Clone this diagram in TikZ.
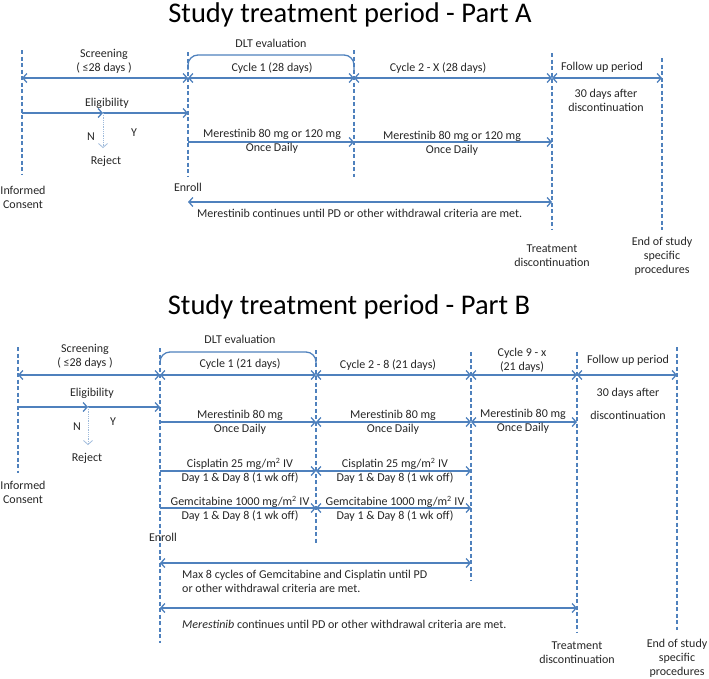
\documentclass[tikz,border=0pt]{standalone}
\usepackage{fontspec}
\setmainfont{Carlito}
\usetikzlibrary{arrows.meta}
\definecolor{accent}{RGB}{79,129,189}
\definecolor{ink}{RGB}{38,38,38}
\tikzset{
  >={Straight Barb[length=4pt,width=9pt]},
  phase/.style={draw=accent, line width=1.1pt, dash pattern=on 4pt off 2.5pt},
  span/.style={<->, draw=accent, line width=1.3pt},
  flow/.style={->, draw=accent, line width=1.3pt},
  dlt/.style={draw=accent, line width=1.3pt, rounded corners=10pt},
  reject/.style={->, draw=accent!55, line width=0.8pt, densely dotted},
  lbl/.style={text=ink, font=\fontsize{12}{14}\selectfont, inner sep=0pt, align=center, anchor=base},
  note/.style={lbl, align=left, anchor=base west},
  heading/.style={text=black, font=\fontsize{28.5}{32}\selectfont, inner sep=0pt, anchor=base},
}

\begin{document}
\begin{tikzpicture}[x=1pt, y=-1pt]
  \useasboundingbox (0,0) rectangle (709,678);

  % Part A
  \node[heading] (titleA) at (350,22) {Study treatment period - Part A};

  \coordinate (a0t) at (22,50);  \coordinate (a0b) at (22,175);
  \coordinate (a1t) at (188,52); \coordinate (a1b) at (188,177);
  \coordinate (a2t) at (354,50); \coordinate (a2b) at (354,177);
  \coordinate (a3t) at (552,53); \coordinate (a3b) at (552,230);
  \coordinate (a4t) at (662,58); \coordinate (a4b) at (662,230);
  \draw[phase] (a0t) -- (a0b);
  \draw[phase] (a1t) -- (a1b);
  \draw[phase] (a2t) -- (a2b);
  \draw[phase] (a3t) -- (a3b);
  \draw[phase] (a4t) -- (a4b);

  \coordinate (rowA1) at (0,78);
  \coordinate (rowA2) at (0,113);
  \coordinate (rowA3) at (0,142);
  \coordinate (rowA4) at (0,202);
  \coordinate (dltTopA) at (0,55);
  \coordinate (dltEndA) at (0,70);
  \coordinate (eliA) at (103,113);

  \draw[span] (a0t |- rowA1) -- (a1t |- rowA1);
  \draw[span] (a1t |- rowA1) -- (a2t |- rowA1);
  \draw[span] (a2t |- rowA1) -- (a3t |- rowA1);
  \draw[span] (a3t |- rowA1) -- (a4t |- rowA1);
  \draw[dlt] (a1t |- dltEndA) |- (a2t |- dltTopA) -- (a2t |- dltEndA);

  \draw[flow] (a0t |- rowA2) -- (eliA);
  \draw[flow] (eliA) -- (a1t |- rowA2);
  \draw[flow] (a1t |- rowA3) -- (a2t |- rowA3);
  \draw[flow] (a2t |- rowA3) -- (a3t |- rowA3);
  \draw[span] (a1t |- rowA4) -- (a3t |- rowA4);

  \node[lbl] (scrA) at (104,71.5) {Screening\\( ≤28 days )};
  \node[lbl] (dltA) at (271,47.5) {DLT evaluation};
  \node[lbl] (cyc1A) at (272,71.5) {Cycle 1 (28 days)};
  \node[lbl] (cyc2A) at (438,71.5) {Cycle 2 - X (28 days)};
  \node[lbl] (fupA) at (602,70.5) {Follow up period};
  \node[lbl] (daysA) at (606,111.5) {30 days after\\discontinuation};
  \node[lbl] (eligA) at (107,106.5) {Eligibility};
  \node[lbl] (noA) at (91,140.5) {N};
  \node[lbl] (yesA) at (134,136.5) {Y};
  \node[lbl] (rejA) at (106,164.5) {Reject};
  \node[lbl] (dose1A) at (272,151.5) {Merestinib 80 mg or 120 mg\\Once Daily};
  \node[lbl] (dose2A) at (452,153) {Merestinib 80 mg or 120 mg\\Once Daily};
  \node[lbl] (enrA) at (188,191.5) {Enroll};
  \node[lbl] (icA) at (23,208.5) {Informed\\Consent};
  \node[note] (contA) at (197,217.5) {Merestinib continues until PD or other withdrawal criteria are met.};
  \node[lbl] (tdA) at (552,266.5) {Treatment\\discontinuation};
  \node[lbl] (eosA) at (662,273.5) {End of study\\specific\\procedures};

  \draw[reject] (eliA) -- (eliA |- rejA.north) [shorten >=8pt];

  % Part B
  \node[heading] (titleB) at (349,314) {Study treatment period - Part B};

  \coordinate (b0t) at (18,347);  \coordinate (b0b) at (18,473);
  \coordinate (b1t) at (160,348); \coordinate (b1b) at (160,643);
  \coordinate (b2t) at (316,350); \coordinate (b2b) at (316,543);
  \coordinate (b3t) at (471,352); \coordinate (b3b) at (471,580);
  \coordinate (b4t) at (577,352); \coordinate (b4b) at (577,632);
  \coordinate (b5t) at (677,347); \coordinate (b5b) at (677,630);
  \draw[phase] (b0t) -- (b0b);
  \draw[phase] (b1t) -- (b1b);
  \draw[phase] (b2t) -- (b2b);
  \draw[phase] (b3t) -- (b3b);
  \draw[phase] (b4t) -- (b4b);
  \draw[phase] (b5t) -- (b5b);

  \coordinate (rowB1) at (0,375);
  \coordinate (rowB2) at (0,407);
  \coordinate (rowB3) at (0,422);
  \coordinate (rowB4) at (0,471);
  \coordinate (rowB5) at (0,508);
  \coordinate (rowB6) at (0,563);
  \coordinate (rowB7) at (0,608);
  \coordinate (dltTopB) at (0,352);
  \coordinate (dltEndB) at (0,363);
  \coordinate (eliB) at (88,407);

  \draw[span] (b0t |- rowB1) -- (b1t |- rowB1);
  \draw[span] (b1t |- rowB1) -- (b2t |- rowB1);
  \draw[span] (b2t |- rowB1) -- (b3t |- rowB1);
  \draw[span] (b3t |- rowB1) -- (b4t |- rowB1);
  \draw[span] (b4t |- rowB1) -- (b5t |- rowB1);
  \draw[dlt] (b1t |- dltEndB) |- (b2t |- dltTopB) -- (b2t |- dltEndB);

  \draw[flow] (b0t |- rowB2) -- (eliB);
  \draw[flow] (eliB) -- (b1t |- rowB2);
  \draw[flow] (b1t |- rowB3) -- (b2t |- rowB3);
  \draw[span] (b2t |- rowB3) -- (b3t |- rowB3);
  \draw[span] (b3t |- rowB3) -- (b4t |- rowB3);
  \draw[flow] (b1t |- rowB4) -- (b2t |- rowB4);
  \draw[span] (b2t |- rowB4) -- (b3t |- rowB4);
  \draw[flow] (b1t |- rowB5) -- (b2t |- rowB5);
  \draw[span] (b2t |- rowB5) -- (b3t |- rowB5);
  \draw[span] (b1t |- rowB6) -- (b3t |- rowB6);
  \draw[span] (b1t |- rowB7) -- (b4t |- rowB7);

  \node[lbl] (scrB) at (85,366.5) {Screening\\( ≤28 days )};
  \node[lbl] (dltB) at (240,343.5) {DLT evaluation};
  \node[lbl] (cyc1B) at (240,367.5) {Cycle 1 (21 days)};
  \node[lbl] (cyc2B) at (388,368.5) {Cycle 2 - 8 (21 days)};
  \node[lbl] (cyc9B) at (522,370.5) {Cycle 9 - x\\(21 days)};
  \node[lbl] (fupB) at (628,363.5) {Follow up period};
  \node[lbl] (daysB) at (628,419.5) {30 days after\\[9pt]discontinuation};
  \node[lbl] (eligB) at (92,396.5) {Eligibility};
  \node[lbl] (noB) at (77,430.5) {N};
  \node[lbl] (yesB) at (113,425.5) {Y};
  \node[lbl] (rejB) at (87,461.5) {Reject};
  \node[lbl] (mer1B) at (240,432.5) {Merestinib 80 mg\\Once Daily};
  \node[lbl] (mer2B) at (393,432.5) {Merestinib 80 mg\\Once Daily};
  \node[lbl] (mer9B) at (523,431.5) {Merestinib 80 mg\\Once Daily};
  \node[lbl] (cis1B) at (240,481.5) {Cisplatin 25 mg/m\textsuperscript{2} IV\\Day 1 \& Day 8 (1 wk off)};
  \node[lbl] (cis2B) at (395,481.5) {Cisplatin 25 mg/m\textsuperscript{2} IV\\Day 1 \& Day 8 (1 wk off)};
  \node[lbl] (gem1B) at (240,519.5) {Gemcitabine 1000 mg/m\textsuperscript{2} IV\\Day 1 \& Day 8 (1 wk off)};
  \node[lbl] (gem2B) at (395,519.5) {Gemcitabine 1000 mg/m\textsuperscript{2} IV\\Day 1 \& Day 8 (1 wk off)};
  \node[lbl] (enrB) at (163,541.5) {Enroll};
  \node[lbl] (icB) at (23,503.5) {Informed\\Consent};
  \node[note] (maxB) at (182,592.5) {Max 8 cycles of Gemcitabine and Cisplatin until PD\\or other withdrawal criteria are met.};
  \node[note] (contB) at (182,628.5) {\textit{Merestinib} continues until PD or other withdrawal criteria are met.};
  \node[lbl] (tdB) at (577,663.5) {Treatment\\discontinuation};
  \node[lbl] (eosB) at (677,675) {End of study\\specific\\procedures};

  \draw[reject] (eliB) -- (eliB |- rejB.north) [shorten >=8pt];
\end{tikzpicture}
\end{document}
